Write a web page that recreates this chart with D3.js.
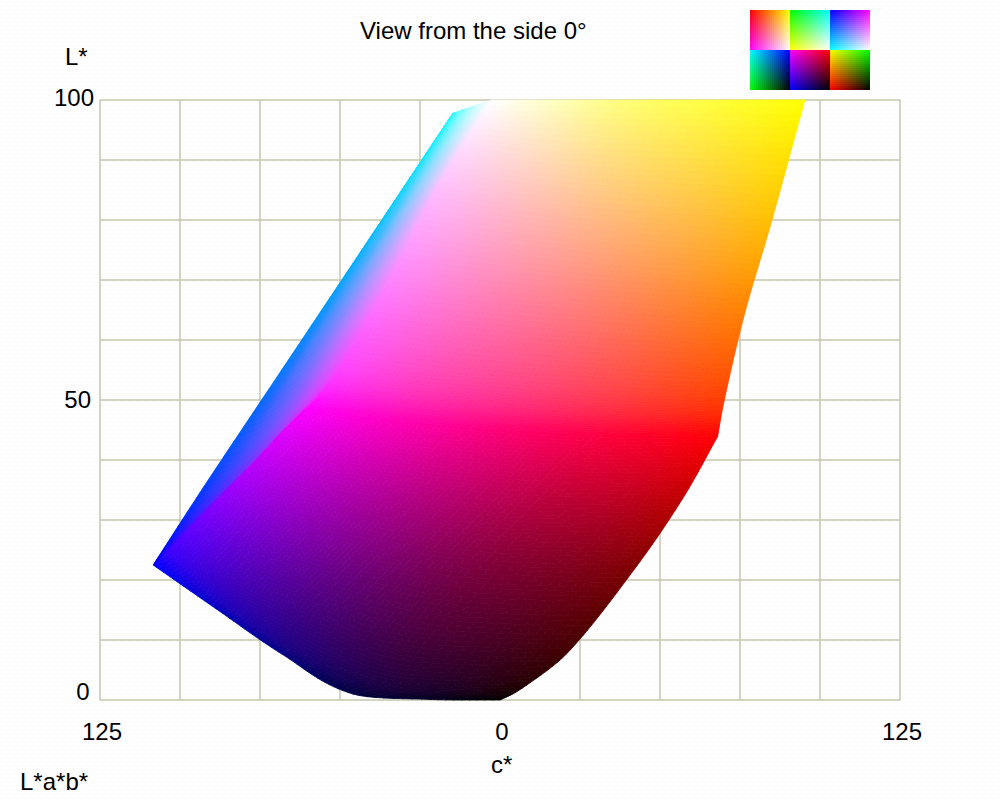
<!DOCTYPE html>
<html>
<head>
<meta charset="utf-8">
<script src="https://cdn.jsdelivr.net/npm/d3@7"></script>
<style>
html,body{margin:0;padding:0;background:#fff;overflow:hidden}
svg{display:block}
text{font-family:"Liberation Sans",Arial,sans-serif;font-size:24px;fill:#000}
</style>
</head>
<body>
<script>
// ---- Data ----
const titleText = "View from the side 0\u00b0";
const xAxisLabel = "c*";
const yAxisLabel = "L*";
const spaceLabel = "L*a*b*";
const xTickValues = [-125, 0, 125];
const yTickValues = [0, 50, 100];
const xGridValues = [-125,-100,-75,-50,-25,0,25,50,75,100,125];
const yGridValues = [0,10,20,30,40,50,60,70,80,90,100];

// channel levels at which the gamut surface was read
const stopsFine = [0, .125, .25, .5, .75, 1];
const stops = [0, .25, .5, .75, 1];

// G=0 face: rows = red level, columns = blue level
const darkFaceC = [
  [0,-22,-46,-68,-89,-108.4],
  [7,-12,-36,-64,-86,-105.7],
  [21,-2,-30,-60,-84,-103],
  [42,20,-8,-41,-68,-91.3],
  [57,39,13,-22,-52,-77.3],
  [68,53,32,-5,-36,-60.3]
];
const darkFaceL = [
  [0,.1,1,7.6,15.3,22.5],
  [2,2.2,3,9,16.3,23.9],
  [7.8,8,9,14.3,19.7,25.3],
  [21.8,22,22.6,24.8,28.1,32.1],
  [33.5,33.7,34,35.4,37.5,40.3],
  [43.9,44.1,44.3,45.3,46.8,48.8]
];
// R=1 face: rows = green level, columns = blue level
const redFaceC = [
  [68,53,32,-5,-36,-60.3],
  [70.3,55,40,8,-26,-50],
  [76.5,63,50,22,-8,-35],
  [85,74,62,33,7,-19],
  [95.3,81,65,36,17,-2.5]
];
const redFaceL = [
  [43.9,44.1,44.3,45.3,46.8,48.8],
  [50.5,50.7,51,52,53.4,55.1],
  [64.5,64.8,65.2,66.2,67.6,69.2],
  [80,80.5,81,82,83.5,85.7],
  [100,100,100,100,100,100]
];
// B=1 face: rows = green level, columns = red level
const blueFaceC = [
  [-108.4,-105.7,-103,-91.3,-77.3,-60.3],
  [-91.5,-88,-84,-74,-63,-50],
  [-64.6,-62,-60,-53,-45,-35],
  [-39.2,-38,-36,-32,-26,-19],
  [-14.7,-14.4,-14,-11.5,-8,-2.5]
];
const blueFaceL = [
  [22.5,23.9,25.3,32.1,40.3,48.8],
  [36.4,37,38,42.2,48.2,55.1],
  [57.9,58.2,58.7,61,64.6,69.2],
  [78.2,78.4,78.7,80.2,82.6,85.7],
  [97.8,97.85,97.9,98.4,99,100]
];
// Thumbnail panels: corner colours top-left, top-right, bottom-left, bottom-right
const panelCorners = [
  ["#ff0000","#ffff00","#ff00ff","#ffffff"],
  ["#00ff00","#00ffff","#ffff00","#ffffff"],
  ["#0000ff","#ff00ff","#00ffff","#ffffff"],
  ["#00ffff","#0000ff","#00ff00","#000000"],
  ["#ff00ff","#ff0000","#0000ff","#000000"],
  ["#ffff00","#00ff00","#ff0000","#000000"]
];

// ---- Scales ----
const x = d3.scaleLinear().domain([-125,125]).range([100,900]);
const y = d3.scaleLinear().domain([0,100]).range([700,100]).clamp(true);

const svg = d3.select("body").append("svg").attr("width",1000).attr("height",800);

// Dotted paper
const defs = svg.append("defs");
const pat = defs.append("pattern").attr("id","paper").attr("width",8).attr("height",8)
  .attr("patternUnits","userSpaceOnUse");
pat.append("rect").attr("width",8).attr("height",8).attr("fill","#fefefe");
[[1,1],[5,5]].forEach(p=>pat.append("rect").attr("x",p[0]).attr("y",p[1])
  .attr("width",1).attr("height",1).attr("fill","#ffff70"));
svg.append("rect").attr("width",1000).attr("height",800).attr("fill","url(#paper)");

// Grid
const grid = svg.append("g").attr("fill","none").attr("stroke","#c6c6ae").attr("stroke-width",1.5);
grid.selectAll("line.v").data(xGridValues).join("line").attr("class","v")
  .attr("x1",d=>x(d)).attr("x2",d=>x(d)).attr("y1",y(0)).attr("y2",y(100));
grid.selectAll("line.h").data(yGridValues).join("line").attr("class","h")
  .attr("y1",d=>y(d)).attr("y2",d=>y(d)).attr("x1",x(-125)).attr("x2",x(125));

// ---- Gamut surface ----
// smooth reading of a row or column of the table between its stops
function smooth(ts, vs, t){
  const n = ts.length;
  let i = d3.bisectRight(ts, t) - 1;
  i = Math.max(0, Math.min(n-2, i));
  const slope = k => k===0 ? (vs[1]-vs[0])/(ts[1]-ts[0])
    : k===n-1 ? (vs[n-1]-vs[n-2])/(ts[n-1]-ts[n-2])
    : (vs[k+1]-vs[k-1])/(ts[k+1]-ts[k-1]);
  const h = ts[i+1]-ts[i], s = (t-ts[i])/h;
  const s2 = s*s, s3 = s2*s;
  return (2*s3-3*s2+1)*vs[i] + (s3-2*s2+s)*h*slope(i)
       + (-2*s3+3*s2)*vs[i+1] + (s3-s2)*h*slope(i+1);
}
function lookup(rowStops, colStops, table){
  const cols = d3.transpose(table);
  return (rv, cv) => smooth(colStops, cols.map(c=>smooth(rowStops,c,rv)), cv);
}
const N = 72;
const levels = d3.range(N+1).map(i=>i/N);
function faceCells(rowStops,colStops,cTab,lTab,colour){
  const cf = lookup(rowStops,colStops,cTab), lf = lookup(rowStops,colStops,lTab);
  const P = levels.map(a=>levels.map(b=>[x(cf(a,b)),y(Math.max(0,lf(a,b)))]));
  const cells=[];
  for(let i=0;i<N;i++)for(let j=0;j<N;j++){
    cells.push({
      pts:[P[i][j],P[i][j+1],P[i+1][j+1],P[i+1][j]],
      fill:colour((i+.5)/N,(j+.5)/N)
    });
  }
  return cells;
}
const ch = v=>Math.round(v*255);
const rgbStr=(r,g,b)=>`rgb(${ch(r)},${ch(g)},${ch(b)})`;
const faces = [
  faceCells(stopsFine,stopsFine,darkFaceC,darkFaceL,(r,b)=>rgbStr(r,0,b)),
  faceCells(stops,stopsFine,redFaceC,redFaceL,(g,b)=>rgbStr(1,g,b)),
  faceCells(stops,stopsFine,blueFaceC,blueFaceL,(g,r)=>rgbStr(r,g,1))
];
const line = d3.line();
svg.append("g").attr("stroke-width",.8).attr("stroke-linejoin","round")
  .selectAll("g").data(faces).join("g")
  .selectAll("path").data(d=>d).join("path")
  .attr("d",d=>line(d.pts)+"Z")
  .attr("fill",d=>d.fill).attr("stroke",d=>d.fill);

// ---- Thumbnail panels ----
const panelX = d3.scaleBand().domain([0,1,2]).range([750,870]);
const panelY = d3.scaleBand().domain([0,1]).range([10,90]);
const cellN = 20;
const cellIdx = d3.range(cellN);
const panelData = panelCorners.map((c,i)=>({c,col:i%3,row:Math.floor(i/3)}));
const panels = svg.append("g").attr("shape-rendering","crispEdges")
  .selectAll("g").data(panelData).join("g")
  .attr("transform",d=>`translate(${panelX(d.col)},${panelY(d.row)})`);
const inner = d3.scaleBand().domain(cellIdx).range([0,panelX.bandwidth()]);
panels.each(function(p){
  const top = d3.interpolateRgb(p.c[0],p.c[1]), bot = d3.interpolateRgb(p.c[2],p.c[3]);
  const cells = d3.cross(cellIdx,cellIdx);
  d3.select(this).selectAll("rect").data(cells).join("rect")
    .attr("x",d=>inner(d[0])).attr("y",d=>inner(d[1]))
    .attr("width",inner.bandwidth()).attr("height",inner.bandwidth())
    .attr("fill",d=>{
      const u=(d[0]+.5)/cellN, v=(d[1]+.5)/cellN;
      return d3.interpolateRgb(top(u),bot(u))(v);
    });
});

// ---- Axes and text ----
const xAxis = svg.append("g").attr("transform","translate(0,732)")
  .call(d3.axisBottom(x).tickValues(xTickValues).tickSize(0).tickPadding(0).tickFormat(d=>Math.abs(d)));
xAxis.select(".domain").remove();
xAxis.selectAll("text").attr("dy",null).attr("y",8).attr("x",1.5).attr("fill",null);
xAxis.attr("font-size",null).attr("font-family",null);

const yLabelShift = new Map([[0,[-10.5,-1]],[50,[-9,7]],[100,[-6,5]]]);
const yAxis = svg.append("g").attr("transform","translate(100,0)")
  .call(d3.axisLeft(y).tickValues(yTickValues).tickSize(0).tickPadding(0));
yAxis.select(".domain").remove();
yAxis.attr("font-size",null).attr("font-family",null);
yAxis.selectAll("text").attr("dy",null).attr("fill",null)
  .attr("x",d=>yLabelShift.get(d)[0]).attr("y",d=>yLabelShift.get(d)[1]);

svg.append("text").attr("x",360).attr("y",39).text(titleText);
svg.append("text").attr("x",65).attr("y",65).text(yAxisLabel);
svg.append("text").attr("x",491).attr("y",773).text(xAxisLabel);
svg.append("text").attr("x",20).attr("y",790).text(spaceLabel);
</script>
</body>
</html>
